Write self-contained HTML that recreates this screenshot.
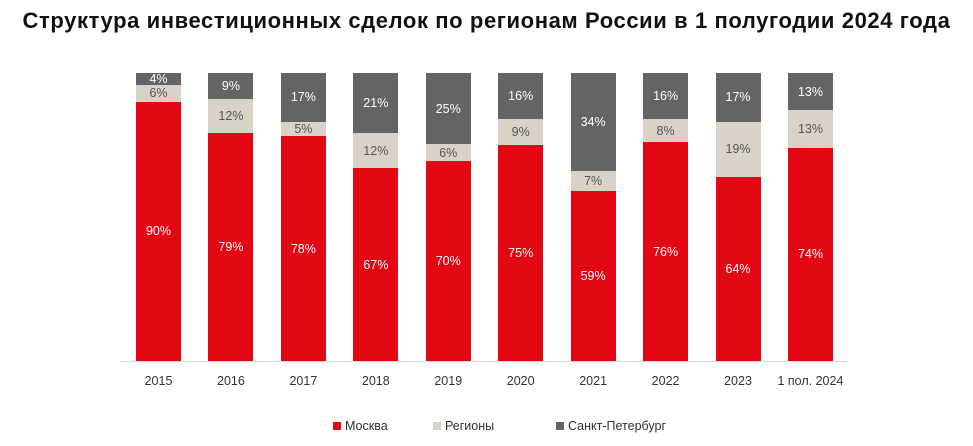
<!DOCTYPE html>
<html><head><meta charset="utf-8"><style>
body{margin:0;width:973px;height:446px;background:#fff;font-family:"Liberation Sans",sans-serif;position:relative;overflow:hidden}
.t{position:absolute;left:0;width:973px;top:8px;text-align:center;font-weight:bold;font-size:22px;letter-spacing:0.6px;color:#111;white-space:nowrap}
.bar{position:absolute;top:73px;height:288px;width:45px;display:flex;flex-direction:column}
.bar div{display:flex;align-items:center;justify-content:center;font-size:12.5px;overflow:visible;min-height:0}
.g{background:#636466;color:#fff}.b{background:#d9d3c7;color:#555}.r{background:#e30613;color:#fff}
.ax{position:absolute;left:120px;width:727px;top:361px;height:1px;background:#d8d8d8}
.xl{position:absolute;top:374px;width:90px;text-align:center;font-size:12.5px;color:#333}
.lg{position:absolute;top:419px;font-size:12.5px;color:#333}
.lg span{display:inline-block;width:8px;height:8px;margin-right:4px}
</style></head><body>
<div class="t">Структура инвестиционных сделок по регионам России в 1 полугодии 2024 года</div>
<div id="c"></div>
<div class="ax"></div>
<div class="lg" style="left:333px"><span style="background:#e30613"></span>Москва</div>
<div class="lg" style="left:433px"><span style="background:#d9d3c7"></span>Регионы</div>
<div class="lg" style="left:556px"><span style="background:#636466"></span>Санкт-Петербург</div>
<script>
var d=[["2015",90,6,4],["2016",79,12,9],["2017",78,5,17],["2018",67,12,21],["2019",70,6,25],["2020",75,9,16],["2021",59,7,34],["2022",76,8,16],["2023",64,19,17],["1 пол. 2024",74,13,13]];
var h="";
d.forEach(function(e,i){var x=136+i*72.44;
h+='<div class="bar" style="left:'+x+'px"><div class="g" style="flex:'+e[3]+' 1 0">'+e[3]+'%</div><div class="b" style="flex:'+e[2]+' 1 0">'+e[2]+'%</div><div class="r" style="flex:'+e[1]+' 1 0">'+e[1]+'%</div></div>';
h+='<div class="xl" style="left:'+(x-22.5)+'px">'+e[0]+'</div>';});
document.getElementById("c").innerHTML=h;
</script>
</body></html>
